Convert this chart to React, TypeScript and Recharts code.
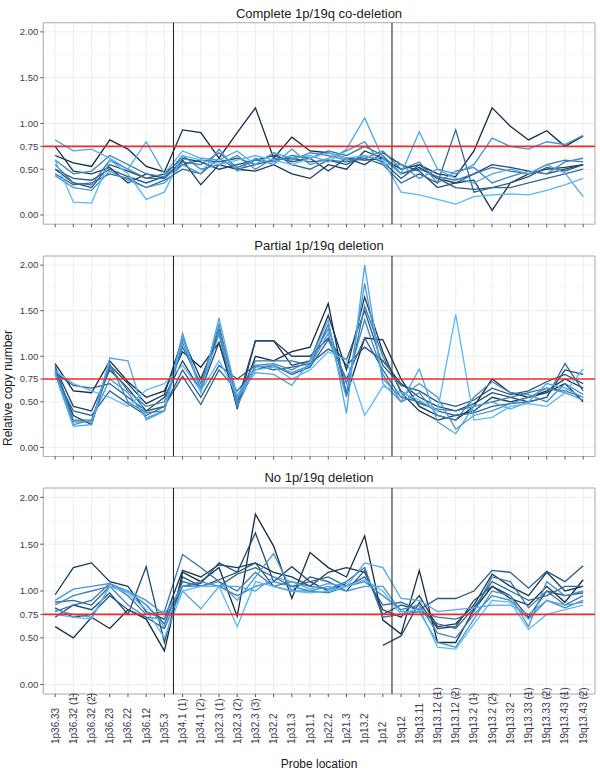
import React from "react";
import { LineChart, Line, XAxis, YAxis, CartesianGrid, ReferenceLine, ReferenceArea } from "recharts";

const probes = [
  "1p36.33", "1p36.32 (1)", "1p36.32 (2)", "1p36.23", "1p36.22", "1p36.12", "1p35.3",
  "1p34.1 (1)", "1p34.1 (2)", "1p32.3 (1)", "1p32.3 (2)", "1p32.3 (3)", "1p32.2", "1p31.3",
  "1p31.1", "1p22.2", "1p21.3", "1p13.2", "1p12",
  "19q12", "19q13.11", "19q13.12 (1)", "19q13.12 (2)", "19q13.2 (1)", "19q13.2 (2)",
  "19q13.32", "19q13.33 (1)", "19q13.33 (2)", "19q13.43 (1)", "19q13.43 (2)",
];

const yTicks = [0, 0.5, 0.75, 1, 1.5, 2];
const yMinor = [0.25, 0.625, 0.875, 1.25, 1.75];
const threshold = 0.75;
const armBreaks = [6.5, 18.5];

const seriesColors = [
  "#132B43", "#1A3A57", "#22496B", "#29587F", "#316793",
  "#3875A7", "#4086BD", "#4796D2", "#4FA7E6", "#58B8F8",
];

const completeSeries: (number | null)[][] = [
  [0.65, 0.57, 0.53, 0.82, 0.72, 0.53, 0.47, 0.93, 0.90, 0.62, 0.90, 1.17, 0.62, 0.85, 0.70, 0.68, 0.62, 0.60, 0.62, 0.50, 0.55, 0.45, 0.42, 0.70, 1.17, 0.97, 0.82, 0.92, 0.75, 0.86],
  [0.75, 0.48, 0.45, 0.52, 0.35, 0.45, 0.40, 0.60, 0.33, 0.55, 0.50, 0.48, 0.55, 0.45, 0.40, 0.55, 0.50, 0.70, 0.62, 0.45, 0.52, 0.40, 0.35, 0.38, 0.05, 0.35, 0.45, 0.50, 0.52, 0.55],
  [0.50, 0.35, 0.30, 0.55, 0.48, 0.40, 0.45, 0.62, 0.58, 0.50, 0.55, 0.60, 0.65, 0.58, 0.62, 0.48, 0.62, 0.55, 0.68, 0.55, 0.48, 0.30, 0.35, 0.45, 0.55, 0.52, 0.48, 0.45, 0.50, 0.55],
  [0.50, 0.40, 0.38, 0.50, 0.42, 0.35, 0.42, 0.55, 0.60, 0.58, 0.62, 0.55, 0.60, 0.62, 0.58, 0.60, 0.55, 0.65, 0.58, 0.40, 0.55, 0.40, 0.30, 0.28, 0.30, 0.35, 0.42, 0.52, 0.48, 0.55],
  [0.45, 0.33, 0.35, 0.45, 0.40, 0.30, 0.38, 0.50, 0.45, 0.62, 0.50, 0.55, 0.68, 0.55, 0.50, 0.60, 0.58, 0.62, 0.55, 0.35, 0.45, 0.35, 0.93, 0.25, 0.30, 0.30, 0.35, 0.40, 0.45, 0.50],
  [0.55, 0.35, 0.33, 0.60, 0.50, 0.40, 0.40, 0.58, 0.55, 0.68, 0.52, 0.60, 0.58, 0.65, 0.62, 0.70, 0.65, 0.75, 0.65, 0.45, 0.50, 0.42, 0.38, 0.45, 0.52, 0.48, 0.45, 0.55, 0.60, 0.58],
  [0.60, 0.45, 0.48, 0.65, 0.55, 0.45, 0.42, 0.65, 0.50, 0.55, 0.65, 0.50, 0.62, 0.60, 0.68, 0.65, 0.60, 0.62, 0.70, 0.50, 0.58, 0.35, 0.48, 0.52, 0.35, 0.42, 0.48, 0.45, 0.58, 0.62],
  [0.43, 0.30, 0.27, 0.48, 0.38, 0.30, 0.35, 0.55, 0.45, 0.72, 0.48, 0.62, 0.55, 0.72, 0.55, 0.62, 0.70, 0.80, 0.55, 0.55, 0.40, 0.50, 0.45, 0.55, 0.84, 0.75, 0.72, 0.80, 0.77, 0.87],
  [0.82, 0.70, 0.72, 0.62, 0.50, 0.80, 0.45, 0.70, 0.62, 0.60, 0.70, 0.55, 0.68, 0.62, 0.65, 0.58, 0.72, 1.06, 0.62, 0.45, 0.91, 0.50, 0.40, 0.35, 0.45, 0.50, 0.45, 0.55, 0.46, 0.20],
  [0.60, 0.14, 0.13, 0.60, 0.45, 0.17, 0.25, 0.65, 0.60, 0.55, 0.60, 0.65, 0.60, 0.55, 0.62, 0.68, 0.62, 0.65, 0.60, 0.25, 0.22, 0.17, 0.12, 0.20, 0.22, 0.23, 0.22, 0.27, 0.33, 0.40],
];

const partialSeries: (number | null)[][] = [
  [0.92, 0.62, 0.60, 0.95, 0.72, 0.55, 0.62, 1.05, 0.88, 1.15, 0.45, 1.00, 0.95, 1.05, 1.10, 1.58, 0.57, 1.20, 1.18, 0.75, 0.45, 0.35, 0.30, 0.45, 0.75, 0.60, 0.55, 0.60, 0.70, 0.50],
  [0.85, 0.35, 0.25, 0.90, 0.70, 0.48, 0.58, 1.20, 0.75, 1.25, 0.42, 1.17, 1.17, 0.90, 0.95, 1.45, 0.85, 1.65, 1.05, 0.60, 0.40, 0.30, 0.35, 0.40, 0.55, 0.50, 0.55, 0.62, 0.75, 0.65],
  [0.88, 0.45, 0.40, 0.85, 0.65, 0.40, 0.55, 0.95, 0.62, 1.15, 0.50, 1.17, 1.17, 1.00, 1.00, 1.20, 0.90, 1.10, 0.95, 0.70, 0.55, 0.45, 0.40, 0.48, 0.60, 0.55, 0.50, 0.55, 0.85, 0.80],
  [0.82, 0.68, 0.65, 0.70, 0.55, 0.40, 0.45, 0.85, 0.55, 0.90, 0.75, 0.90, 0.85, 0.88, 0.92, 1.08, 0.96, 1.50, 0.90, 0.68, 0.62, 0.50, 0.45, 0.52, 0.65, 0.58, 0.62, 0.72, 0.80, 0.70],
  [0.80, 0.40, 0.35, 0.62, 0.48, 0.35, 0.45, 0.78, 0.47, 0.85, 0.62, 0.85, 0.90, 0.80, 0.88, 1.18, 0.75, 1.20, 0.85, 0.55, 0.50, 0.40, 0.35, 0.38, 0.45, 0.48, 0.50, 0.55, 0.92, 0.62],
  [0.90, 0.30, 0.30, 0.88, 0.62, 0.45, 0.50, 1.10, 0.70, 1.30, 0.55, 0.95, 0.95, 0.95, 0.90, 1.35, 0.60, 1.55, 1.00, 0.62, 0.48, 0.42, 0.40, 0.45, 0.50, 0.55, 0.60, 0.65, 0.62, 0.55],
  [0.84, 0.28, 0.28, 0.92, 0.50, 0.38, 0.40, 1.15, 0.65, 1.35, 0.50, 0.90, 0.92, 0.85, 0.95, 1.30, 0.70, 1.40, 0.80, 0.50, 0.60, 0.35, 0.30, 0.55, 0.72, 0.60, 0.58, 0.50, 0.70, 0.58],
  [0.82, 0.25, 0.30, 0.75, 0.60, 0.32, 0.40, 1.25, 0.62, 1.25, 0.45, 0.88, 0.90, 0.82, 0.90, 1.25, 0.55, 1.80, 0.75, 0.55, 0.70, 0.55, 0.20, 0.35, 0.40, 0.48, 0.55, 0.65, 0.60, 0.52],
  [0.80, 0.23, 0.25, 0.98, 0.95, 0.30, 0.40, 1.22, 0.60, 1.42, 0.55, 0.82, 0.80, 0.68, 0.95, 1.40, 0.37, 2.00, 0.70, 0.50, 0.86, 0.28, 0.15, 0.45, 0.50, 0.42, 0.50, 0.70, 0.65, 0.55],
  [0.84, 0.70, 0.62, 0.55, 0.45, 0.63, 0.70, 0.90, 0.62, 0.95, 0.58, 0.85, 0.88, 0.75, 0.85, 1.05, 0.96, 0.35, 0.67, 0.60, 0.52, 0.40, 1.46, 0.30, 0.33, 0.45, 0.48, 0.45, 0.60, 0.86],
];

const noDeletionSeries: (number | null)[][] = [
  [0.62, 0.50, 0.72, 0.60, 0.80, 0.70, 0.36, 1.20, 1.10, 1.25, 0.73, 1.82, 1.48, 0.92, 1.41, 1.25, 1.15, 1.59, 0.69, 0.54, 1.22, 0.45, 0.45, 0.80, 1.05, 0.92, 0.85, 1.05, 0.88, 1.12],
  [0.96, 1.25, 1.30, 1.10, 1.05, 0.78, 0.70, 1.22, 1.15, 1.28, 1.25, 1.30, 1.20, 1.15, 1.05, 1.20, 1.25, 1.20, 0.80, 0.72, 0.95, 0.62, 0.65, 0.85, 1.18, 1.05, 0.95, 1.20, 1.00, 1.05],
  [0.72, 0.85, 0.80, 0.98, 0.75, 1.26, 0.45, 1.15, 1.05, 1.12, 1.20, 1.62, 1.10, 1.26, 1.10, 1.00, 1.08, null, 0.42, 0.52, 0.88, 0.60, 0.62, 0.90, 1.05, 0.95, 0.72, 1.00, 0.95, 0.98],
  [0.82, 0.72, 0.75, 0.95, 0.80, 0.72, 0.60, 1.05, 1.08, 1.30, 1.20, 1.30, 1.05, 1.00, 1.15, 1.10, 1.00, 1.22, 0.75, 0.85, 0.80, 0.92, 0.92, 1.00, 1.22, 1.20, 1.03, 1.21, 1.10, 1.27],
  [0.88, 0.90, 0.85, 1.05, 1.00, 0.85, 0.65, 1.10, 1.05, 1.05, 1.18, 1.25, 1.15, 1.05, 1.10, 1.15, 1.05, 1.15, 0.85, 0.88, 0.80, 0.65, 0.60, 0.82, 1.10, 1.00, 0.90, 0.95, 1.05, 1.05],
  [0.78, 0.85, 0.90, 1.08, 0.95, 0.75, 0.78, 1.39, 1.25, 1.10, 1.00, 1.20, 1.05, 1.10, 1.05, 1.02, 1.10, 1.25, 0.72, 0.75, 0.78, 0.72, 0.70, 0.78, 1.15, 1.10, 0.82, 1.00, 0.85, 0.95],
  [0.85, 0.95, 1.00, 1.05, 0.85, 0.72, 0.70, 1.05, 1.10, 1.05, 0.95, 1.05, 1.10, 1.05, 1.00, 0.98, 1.05, 1.10, 0.95, 0.80, 0.85, 0.55, 0.50, 0.75, 0.95, 0.90, 0.70, 0.90, 0.82, 0.90],
  [0.90, 1.02, 1.05, 1.08, 1.00, 0.90, 0.75, 1.05, 1.05, 1.10, 0.90, 1.15, 1.40, 1.00, 1.00, 1.05, 1.00, 1.05, 1.05, 0.78, 0.78, 0.45, 0.40, 0.70, 1.00, 0.95, 0.62, 1.10, 0.95, 1.00],
  [0.80, 0.75, 0.72, 1.05, 1.00, 0.85, 0.62, 1.00, 0.81, 1.05, 1.05, 1.00, 1.15, 1.10, 1.02, 1.08, 1.05, 1.30, 1.25, 0.92, 0.90, 0.78, 0.80, 0.82, 0.85, 0.85, 0.75, 0.90, 0.85, 0.88],
  [0.75, 0.72, 0.70, 1.05, 0.98, 0.80, 0.50, 1.00, 1.05, 1.05, 0.62, 1.10, 1.05, 1.00, 0.98, 1.00, 1.05, 1.12, 1.00, 0.75, 0.82, 0.40, 0.38, 0.65, 0.90, 0.88, 0.59, 0.75, 0.80, 0.85],
];

const panelTitles = ["Complete 1p/19q co-deletion", "Partial 1p/19q deletion", "No 1p/19q deletion"];

const FONT = "'Liberation Sans', Arial, sans-serif";
const X_DOMAIN: [number, number] = [-0.65, 29.65];
const Y_DOMAIN: [number, number] = [-0.1, 2.1];
const xTickIdx = probes.map((_, i) => i);

function buildRows(series: (number | null)[][]) {
  return probes.map((p, i) => {
    const row: Record<string, any> = { x: i, probe: p };
    series.forEach((s, k) => {
      row["s" + k] = s[i];
    });
    return row;
  });
}

const EmptyTick = () => <g />;

function makeProbeTick(labelBottom: number) {
  return (props: any) => {
    const { x, payload } = props;
    const label = probes[payload.value] ?? "";
    return (
      <text
        x={x}
        y={labelBottom}
        transform={`rotate(-90 ${x} ${labelBottom})`}
        textAnchor="start"
        dy="0.35em"
        fontSize={10}
        fontFamily={FONT}
        fill="#3a3a52"
      >
        {label}
      </text>
    );
  };
}

type PanelProps = {
  series: (number | null)[][];
  top: number;
  plotTop: number;
  plotHeight: number;
  showLabels: boolean;
};

function Panel({ series, top, plotTop, plotHeight, showLabels }: PanelProps) {
  const rows = buildRows(series);
  const xAxisHeight = showLabels ? 64 : 8;
  const height = plotTop + plotHeight + xAxisHeight;
  const labelBottom = plotTop + plotHeight + 50;
  return (
    <div style={{ position: "absolute", left: 0, top, width: 600, height }}>
      <LineChart
        width={600}
        height={height}
        data={rows}
        margin={{ top: plotTop, right: 5, bottom: 0, left: 0 }}
      >
        <CartesianGrid stroke="#e6eaea" strokeWidth={0.8} />
        {yMinor.map((v) => (
          <ReferenceLine key={"m" + v} y={v} stroke="#f2f4f4" strokeWidth={0.6} />
        ))}
        <XAxis
          type="number"
          dataKey="x"
          domain={X_DOMAIN}
          ticks={xTickIdx}
          allowDataOverflow
          interval={0}
          axisLine={false}
          tickLine={{ stroke: "#555555" }}
          tickSize={3}
          height={xAxisHeight}
          tick={showLabels ? makeProbeTick(labelBottom) : EmptyTick}
        />
        <YAxis
          type="number"
          domain={Y_DOMAIN}
          ticks={yTicks}
          allowDataOverflow
          width={43.3}
          axisLine={false}
          tickLine={{ stroke: "#555555" }}
          tickSize={3}
          tickFormatter={(v: number) => v.toFixed(2)}
          tick={{ fontSize: 9.5, fontFamily: FONT, fill: "#3a3a52" }}
        />
        {series.map((_, k) => (
          <Line
            key={k}
            type="linear"
            dataKey={"s" + k}
            stroke={seriesColors[k]}
            strokeWidth={1.3}
            dot={false}
            activeDot={false}
            connectNulls={false}
            isAnimationActive={false}
          />
        ))}
        {armBreaks.map((b) => (
          <ReferenceLine key={"b" + b} x={b} stroke="#2a2a2a" strokeWidth={1.1} />
        ))}
        <ReferenceLine y={threshold} stroke="#EE2A2A" strokeWidth={1.6} />
        <ReferenceArea
          x1={X_DOMAIN[0]}
          x2={X_DOMAIN[1]}
          y1={Y_DOMAIN[0]}
          y2={Y_DOMAIN[1]}
          fill="none"
          fillOpacity={0}
          stroke="#a9b1b1"
          strokeWidth={1}
          ifOverflow="visible"
        />
      </LineChart>
    </div>
  );
}

export default function App() {
  const panels = [
    { series: completeSeries, top: 0, plotTop: 22.7, plotHeight: 201.5 },
    { series: partialSeries, top: 233, plotTop: 23, plotHeight: 200.5 },
    { series: noDeletionSeries, top: 464.7, plotTop: 23, plotHeight: 206 },
  ];
  const titleBaselines = [17.5, 250, 481.5];
  return (
    <div
      style={{
        position: "absolute",
        left: 0,
        top: 0,
        width: 600,
        height: 772,
        background: "#ffffff",
        overflow: "hidden",
      }}
    >
      {panels.map((p, i) => (
        <Panel
          key={i}
          series={p.series}
          top={p.top}
          plotTop={p.plotTop}
          plotHeight={p.plotHeight}
          showLabels={i === 2}
        />
      ))}
      <svg
        width={600}
        height={772}
        style={{ position: "absolute", left: 0, top: 0, pointerEvents: "none" }}
      >
        {panelTitles.map((t, i) => (
          <text
            key={t}
            x={319}
            y={titleBaselines[i]}
            textAnchor="middle"
            fontSize={13}
            fontFamily={FONT}
            fill="#1a1a1a"
          >
            {t}
          </text>
        ))}
        <text
          x={12}
          y={388}
          transform="rotate(-90 12 388)"
          textAnchor="middle"
          fontSize={12}
          fontFamily={FONT}
          fill="#1a1a1a"
        >
          Relative copy number
        </text>
        <text x={319} y={768} textAnchor="middle" fontSize={12} fontFamily={FONT} fill="#1a1a1a">
          Probe location
        </text>
      </svg>
    </div>
  );
}
